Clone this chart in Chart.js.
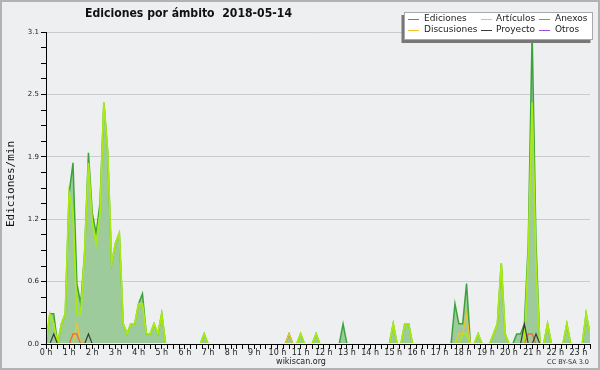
<!DOCTYPE html>
<html lang="es">
<head>
<meta charset="UTF-8">
<title>Ediciones por ámbito 2018-05-14</title>
<script src="https://cdn.jsdelivr.net/npm/chart.js"></script>
<style>
  html, body { margin: 0; padding: 0; background: #eeeff1; }
  #wrap { width: 600px; height: 370px; }
</style>
</head>
<body>
<div id="wrap"><canvas id="chart" width="600" height="370"></canvas></div>
<script>
// textos
const chartTitle = 'Ediciones por ámbito  2018-05-14';
const yTitle = 'Ediciones/min';
const hourLabels = ['0 h','1 h','2 h','3 h','4 h','5 h','6 h','7 h','8 h','9 h','10 h','11 h',
                    '12 h','13 h','14 h','15 h','16 h','17 h','18 h','19 h','20 h','21 h','22 h','23 h'];
const yMax = 3.1;

// ediciones/min por tramo de 10 minutos (00:00 .. 23:30)
const ediciones = [
  0,0.3,0.3,0,0.2,0.3,1.5,1.8,0.6,0.4,0.9,1.9,
  1.3,1.1,1.4,2.4,1.9,0.8,1.0,1.1,0.2,0.1,0.2,0.2,
  0.4,0.5,0.1,0.1,0.2,0.1,0.3,0,0,0,0,0,
  0,0,0,0,0,0.1,0,0,0,0,0,0,
  0,0,0,0,0,0,0,0,0,0,0,0,
  0,0,0,0.1,0,0,0.1,0,0,0,0.1,0,
  0,0,0,0,0,0.2,0,0,0,0,0,0,
  0,0,0,0,0,0,0.2,0,0,0.2,0.2,0,
  0,0,0,0,0,0,0,0,0,0,0.4,0.2,
  0.2,0.6,0,0,0.1,0,0,0,0.1,0.2,0.8,0.1,
  0,0,0.1,0.1,0.2,1.0,3.1,1.0,0,0,0.2,0,
  0,0,0,0.2,0,0,0,0,0.3,0.1
];
const articulos = [
  0,0.3,0.2,0,0.2,0.3,1.5,1.3,0.3,0.3,0.9,1.8,
  1.2,1.0,1.3,2.4,1.9,0.8,1.0,1.1,0.2,0.1,0.2,0.2,
  0.4,0.4,0.1,0.1,0.2,0.1,0.3,0,0,0,0,0,
  0,0,0,0,0,0.1,0,0,0,0,0,0,
  0,0,0,0,0,0,0,0,0,0,0,0,
  0,0,0,0,0,0,0.1,0,0,0,0.1,0,
  0,0,0,0,0,0,0,0,0,0,0,0,
  0,0,0,0,0,0,0.2,0,0,0.2,0.2,0,
  0,0,0,0,0,0,0,0,0,0,0,0,
  0.1,0.1,0,0,0.1,0,0,0,0.1,0.2,0.8,0.1,
  0,0,0,0,0,0.9,2.4,0.8,0,0,0.2,0,
  0,0,0,0.2,0,0,0,0,0.3,0.1
];
const discusiones = [
  0,0,0,0,0,0,0,0,0.2,0,0,0,
  0,0,0,0,0,0,0,0,0,0,0,0,
  0,0,0,0,0,0,0,0,0,0,0,0,
  0,0,0,0,0,0,0,0,0,0,0,0,
  0,0,0,0,0,0,0,0,0,0,0,0,
  0,0,0,0.1,0,0,0,0,0,0,0,0,
  0,0,0,0,0,0,0,0,0,0,0,0,
  0,0,0,0,0,0,0,0,0,0,0,0,
  0,0,0,0,0,0,0,0,0,0,0,0.1,
  0.1,0.3,0,0,0,0,0,0,0,0,0,0,
  0,0,0,0,0,0,0,0,0,0,0,0,
  0,0,0,0,0,0,0,0,0,0
];
const anexos = [
  0,0,0,0,0,0,0,0.1,0.1,0,0,0,
  0,0,0,0,0,0,0,0,0,0,0,0,
  0,0,0,0,0,0,0,0,0,0,0,0,
  0,0,0,0,0,0,0,0,0,0,0,0,
  0,0,0,0,0,0,0,0,0,0,0,0,
  0,0,0,0,0,0,0,0,0,0,0,0,
  0,0,0,0,0,0,0,0,0,0,0,0,
  0,0,0,0,0,0,0,0,0,0,0,0,
  0,0,0,0,0,0,0,0,0,0,0,0,
  0,0,0,0,0,0,0,0,0,0,0,0,
  0,0,0,0,0,0.1,0.1,0,0,0,0,0,
  0,0,0,0,0,0,0,0,0,0
];
const proyecto = [
  0,0,0.1,0,0,0,0,0,0,0,0,0.1,
  0,0,0,0,0,0,0,0,0,0,0,0,
  0,0,0,0,0,0,0,0,0,0,0,0,
  0,0,0,0,0,0,0,0,0,0,0,0,
  0,0,0,0,0,0,0,0,0,0,0,0,
  0,0,0,0,0,0,0,0,0,0,0,0,
  0,0,0,0,0,0,0,0,0,0,0,0,
  0,0,0,0,0,0,0,0,0,0,0,0,
  0,0,0,0,0,0,0,0,0,0,0,0,
  0,0,0,0,0,0,0,0,0,0,0,0,
  0,0,0,0,0.2,0,0,0.1,0,0,0,0,
  0,0,0,0,0,0,0,0,0,0
];
const otros = [
  0,0,0,0,0,0,0,0,0,0,0,0,
  0,0,0,0,0,0,0,0,0,0,0,0,
  0,0,0,0,0,0,0,0,0,0,0,0,
  0,0,0,0,0,0,0,0,0,0,0,0,
  0,0,0,0,0,0,0,0,0,0,0,0,
  0,0,0,0,0,0,0,0,0,0,0,0,
  0,0,0,0,0,0,0,0,0,0,0,0,
  0,0,0,0,0,0,0,0,0,0,0,0,
  0,0,0,0,0,0,0,0,0,0,0,0,
  0,0,0,0,0,0,0,0,0,0,0,0,
  0,0,0,0,0,0,0,0,0,0,0,0,
  0,0,0,0,0,0,0,0,0,0
];

// series en el orden de la leyenda (por filas)
const series = [
  { label: 'Ediciones',   data: ediciones,   color: '#3ba33b', width: 1.5, order: 5 },
  { label: 'Artículos',   data: articulos,   color: '#a8ea12', width: 1.8, order: 4 },
  { label: 'Anexos',      data: anexos,      color: '#f26a2e', width: 1.3, order: 2 },
  { label: 'Discusiones', data: discusiones, color: '#f5c22a', width: 1.3, order: 3 },
  { label: 'Proyecto',    data: proyecto,    color: '#3a3a3a', width: 1.2, order: 1 },
  { label: 'Otros',       data: otros,       color: '#9a4be0', width: 1.2, order: 0 }
];

const BG = '#eeeff1';
const SANS = '"DejaVu Sans", sans-serif';

const toPoints = arr => arr.map((v, i) => ({ x: i / 6, y: v }));

const datasets = series.map(s => ({
  label: s.label,
  data: toPoints(s.data),
  borderColor: s.color,
  borderWidth: s.width,
  backgroundColor: s.label === 'Ediciones' ? '#9ecb9b' : 'transparent',
  fill: s.label === 'Ediciones' ? 'origin' : false,
  pointRadius: 0,
  tension: 0,
  order: s.order,
  clip: { left: 0, top: 5, right: 0, bottom: -1 }
}));

// fondo, marco, ejes por encima y textos
const decor = {
  id: 'decor',
  beforeDraw(chart) {
    const ctx = chart.ctx;
    ctx.save();
    ctx.fillStyle = BG;
    ctx.fillRect(0, 0, chart.width, chart.height);
    ctx.restore();
  },
  afterDatasetsDraw(chart) {
    const { ctx, chartArea: a } = chart;
    ctx.save();
    ctx.strokeStyle = '#000';
    ctx.lineWidth = 1;
    ctx.beginPath();
    ctx.moveTo(a.left + 0.5, a.top);
    ctx.lineTo(a.left + 0.5, a.bottom + 0.5);
    ctx.lineTo(a.right, a.bottom + 0.5);
    ctx.stroke();
    ctx.restore();
  },
  afterDraw(chart) {
    const ctx = chart.ctx;
    ctx.save();

    // título
    ctx.fillStyle = '#111';
    ctx.textBaseline = 'middle';
    ctx.textAlign = 'left';
    ctx.font = 'bold 12px "DejaVu Sans Condensed", ' + SANS;
    let w = ctx.measureText(chartTitle).width;
    const size = 12 * 207 / w;
    ctx.font = 'bold ' + size.toFixed(2) + 'px "DejaVu Sans Condensed", ' + SANS;
    ctx.fillText(chartTitle, 85, 14);

    // título eje Y
    ctx.save();
    ctx.translate(11, 184);
    ctx.rotate(-Math.PI / 2);
    ctx.textAlign = 'center';
    ctx.font = '11px "DejaVu Sans Mono", monospace';
    ctx.fillStyle = '#111';
    ctx.fillText(yTitle, 0, 0);
    ctx.restore();

    // pie
    ctx.textAlign = 'center';
    ctx.font = '8px ' + SANS;
    ctx.fillStyle = '#222';
    ctx.fillText('wikiscan.org', 301, 361.5);
    ctx.textAlign = 'right';
    ctx.font = '6.5px ' + SANS;
    ctx.fillStyle = '#333';
    ctx.fillText('CC BY-SA 3.0', 589, 362);

    // leyenda
    const lx = 404, ly = 12, lw = 189, lh = 28;
    ctx.fillStyle = '#777777';
    ctx.fillRect(lx - 2.5, ly + 3, lw, lh);
    ctx.fillStyle = '#ffffff';
    ctx.fillRect(lx, ly, lw, lh);
    ctx.strokeStyle = '#a8a8a8';
    ctx.lineWidth = 1;
    ctx.strokeRect(lx + 0.5, ly + 0.5, lw - 1, lh - 1);

    const lineX = [408, 481, 539];
    const textX = [424, 496, 555];
    const rowY = [19, 29.5];
    ctx.font = '9px ' + SANS;
    ctx.textAlign = 'left';
    series.forEach((s, i) => {
      const c = i % 3, r = Math.floor(i / 3);
      ctx.strokeStyle = s.color;
      ctx.lineWidth = 1;
      ctx.beginPath();
      ctx.moveTo(lineX[c], Math.round(rowY[r]) + 0.5);
      ctx.lineTo(lineX[c] + 11, Math.round(rowY[r]) + 0.5);
      ctx.stroke();
      ctx.fillStyle = '#222';
      ctx.fillText(s.label, textX[c], rowY[r]);
    });

    // marco
    ctx.strokeStyle = '#b2b2b2';
    ctx.lineWidth = 2;
    ctx.strokeRect(1, 1, chart.width - 2, chart.height - 2);
    ctx.restore();
  }
};

new Chart(document.getElementById('chart'), {
  type: 'line',
  data: { datasets: datasets },
  options: {
    responsive: false,
    animation: false,
    devicePixelRatio: 1,
    layout: { padding: { top: 32, right: 10, left: 0, bottom: 0 } },
    plugins: { legend: { display: false }, title: { display: false }, tooltip: { enabled: false } },
    scales: {
      x: {
        type: 'linear',
        min: 0,
        max: (ediciones.length - 1) / 6,
        afterBuildTicks: s => {
          const t = [];
          for (let q = 0; q <= s.max * 4 + 1e-6; q++) t.push({ value: q / 4 });
          s.ticks = t;
        },
        afterFit: s => { s.height = 26; },
        ticks: {
          autoSkip: false,
          maxRotation: 0,
          padding: -1,
          color: '#222',
          font: { family: SANS, size: 8 },
          callback: v => Number.isInteger(v) ? hourLabels[v] : ''
        },
        grid: { drawOnChartArea: false, tickLength: 5, color: '#000', tickColor: '#000' },
        border: { color: '#000', width: 1 }
      },
      y: {
        min: 0,
        max: yMax,
        afterBuildTicks: s => {
          const t = [];
          for (let k = 0; k <= 20; k++) t.push({ value: yMax * k / 20 });
          s.ticks = t;
        },
        afterFit: s => { s.width = 46; },
        ticks: {
          autoSkip: false,
          padding: 2,
          color: '#222',
          font: { family: SANS, size: 7 },
          callback: (v, i) => i % 4 === 0 ? v.toFixed(1) : ''
        },
        grid: {
          color: c => (c.index % 4 === 0 && c.index > 0) ? '#cbcbcb' : 'rgba(0,0,0,0)',
          tickColor: '#000',
          tickLength: 5
        },
        border: { color: '#000', width: 1 }
      }
    }
  },
  plugins: [decor]
});
</script>
</body>
</html>
